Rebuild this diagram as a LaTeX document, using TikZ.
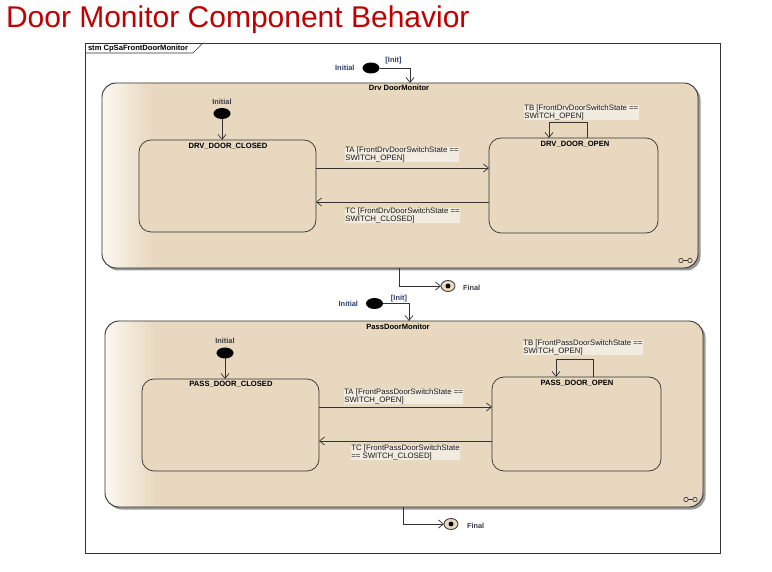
\documentclass[tikz,border=0pt]{standalone}
\usepackage{fontspec}
\setmainfont{Liberation Sans}
\usetikzlibrary{arrows.meta,shadows,shapes.geometric,calc}
\definecolor{tanc}{RGB}{231,216,191}
\definecolor{tanl}{RGB}{252,248,241}
\definecolor{linec}{RGB}{50,50,50}
\definecolor{titlec}{RGB}{192,0,0}
\definecolor{lblc}{RGB}{60,60,70}
\definecolor{initc}{RGB}{45,60,105}
\definecolor{guardbg}{RGB}{242,235,224}
\begin{document}
\begin{tikzpicture}[x=1pt,y=-1pt,
  every node/.style={inner sep=0pt, outer sep=0pt},
  comp/.style={draw=linec, line width=0.9pt, rounded corners=14pt, fill=tanc,
     drop shadow={shadow xshift=2.5pt, shadow yshift=-2.5pt, fill=black!40, opacity=1},
     path picture={\foreach \i [evaluate=\i as \p using int(\i*4)] in {0,...,25}
        {\fill[tanc!\p!tanl, sharp corners] ([xshift=\i*2pt]path picture bounding box.north west) rectangle ([xshift=\i*2pt+2.3pt]path picture bounding box.south west);}}},
  stt/.style={draw=linec, line width=0.7pt, rounded corners=12pt, fill=tanc},
  nm/.style={font=\fontsize{7.6}{8}\selectfont\bfseries, text=black},
  guard/.style={font=\fontsize{7.8}{7.8}\selectfont, text=black!90, align=left, fill=guardbg, inner sep=0.3pt},
  lbl/.style={font=\fontsize{7.4}{8}\selectfont\bfseries, text=lblc},
  initst/.style={ellipse, fill=black, minimum width=17pt, minimum height=11pt},
  finst/.style={ellipse, draw=linec, line width=0.8pt, fill=tanc, minimum width=14pt, minimum height=11pt,
     path picture={\fill[black] (path picture bounding box.center) circle (2.4pt);}},
  tr/.style={draw=linec, line width=0.7pt, -{Straight Barb[length=5pt,width=8pt,line width=0.7pt]}},
  linkicon/.style={draw=linec, line width=0.6pt}
]
\fill[white] (0,0) rectangle (772,572);
\useasboundingbox (0,0) rectangle (772,572);

% title
\node[anchor=base west, font=\fontsize{30}{31}\selectfont, text=titlec] (title) at (6,28) {Door Monitor Component Behavior};

% frame
\node[draw=linec, line width=0.9pt, minimum width=635pt, minimum height=510pt] (frame) at (402.5,298) {};
\draw[linec, line width=0.7pt] ([yshift=-10pt]frame.north west) -- ++(108,0) -- ++(10,-10);
\node[nm, anchor=base west] (tabt) at (88,50.5) {stm CpSaFrontDoorMonitor};

% ===== Drv composite =====
\node[comp, minimum width=596pt, minimum height=185pt] (drv) at (400,175.5) {};
\node[nm, anchor=center] (drvt) at (399,88) {Drv DoorMonitor};

\node[initst] (i0) at (371,68) {};
\node[lbl, text=initc, anchor=east] (i0l) at ([xshift=-8pt]i0.west) {Initial};
\draw[tr] (i0.east) -| ([xshift=10pt]drv.north);
\node[lbl, text=initc, anchor=center] (i0g) at (393.5,61) {[Init]};

\node[initst] (i1) at (222,113.5) {};
\node[lbl, anchor=center] (i1l) at (222,102) {Initial};

\node[stt, minimum width=177pt, minimum height=92pt] (dc) at (227.5,186) {};
\node[nm] (dct) at (228,146) {DRV\_DOOR\_CLOSED};
\node[stt, minimum width=169pt, minimum height=95pt] (do) at (573.5,185.5) {};
\node[nm] (dot) at (575,144) {DRV\_DOOR\_OPEN};

\draw[tr] (i1.south) -- (i1.south |- dc.north);

\coordinate (ta1) at ([yshift=18pt]dc.east);
\draw[tr] (ta1) -- (ta1 -| do.west);
\node[guard, anchor=west] (tal) at (345,154.5) {TA [FrontDrvDoorSwitchState ==\\SWITCH\_OPEN]};
\coordinate (tc1) at ([yshift=-16.5pt]do.west);
\draw[tr] (tc1) -- (tc1 -| dc.east);
\node[guard, anchor=west] (tcl) at (345,215.5) {TC [FrontDrvDoorSwitchState ==\\SWITCH\_CLOSED]};
\draw[tr] ([xshift=13.5pt]do.north) -- ++(0,-16) -| ([xshift=-24.5pt]do.north);
\node[guard, anchor=west] (tbl) at (524,112.5) {TB [FrontDrvDoorSwitchState ==\\SWITCH\_OPEN]};

\draw[linkicon] ([shift={(-17,-7.5)}]drv.south east) circle (2.2pt) ([shift={(-8,-7.5)}]drv.south east) circle (2.2pt)
  ([shift={(-14.8,-7.5)}]drv.south east) -- ([shift={(-10.2,-7.5)}]drv.south east);

\node[finst] (f1) at (448,286) {};
\node[lbl, anchor=west] (f1l) at (463,288) {Final};
\draw[tr] ([xshift=-1pt]drv.south) |- (f1.west);

% ===== Pass composite =====
\node[comp, minimum width=598pt, minimum height=186pt] (pass) at (404,414) {};
\node[nm, anchor=center] (passt) at (398,327) {PassDoorMonitor};

\node[initst] (i2) at (374.5,303.5) {};
\node[lbl, text=initc, anchor=east] (i2l) at ([xshift=-8pt]i2.west) {Initial};
\draw[tr] (i2.east) -| ([xshift=5pt]pass.north);
\node[lbl, text=initc, anchor=center] (i2g) at (399,298.5) {[Init]};

\node[initst] (i3) at (225,353) {};
\node[lbl, anchor=center] (i3l) at (225,341) {Initial};

\node[stt, minimum width=177pt, minimum height=92pt] (pc) at (230.5,425) {};
\node[nm] (pct) at (231,384.5) {PASS\_DOOR\_CLOSED};
\node[stt, minimum width=169pt, minimum height=94pt] (po) at (576.5,424) {};
\node[nm] (pot) at (577,383) {PASS\_DOOR\_OPEN};

\draw[tr] (i3.south) -- (i3.south |- pc.north);

\coordinate (ta2) at ([yshift=18pt]pc.east);
\draw[tr] (ta2) -- (ta2 -| po.west);
\node[guard, anchor=west] (tal2) at (344,396.5) {TA [FrontPassDoorSwitchState ==\\SWITCH\_OPEN]};
\coordinate (tc2) at ([yshift=-17pt]po.west);
\draw[tr] (tc2) -- (tc2 -| pc.east);
\node[guard, anchor=west] (tcl2) at (351,452.5) {TC [FrontPassDoorSwitchState\\== SWITCH\_CLOSED]};
\draw[tr] ([xshift=16.5pt]po.north) -- ++(0,-18) -| ([xshift=-20.5pt]po.north);
\node[guard, anchor=west] (tbl2) at (523,347.5) {TB [FrontPassDoorSwitchState ==\\SWITCH\_OPEN]};

\draw[linkicon] ([shift={(-17,-7.5)}]pass.south east) circle (2.2pt) ([shift={(-8,-7.5)}]pass.south east) circle (2.2pt)
  ([shift={(-14.8,-7.5)}]pass.south east) -- ([shift={(-10.2,-7.5)}]pass.south east);

\node[finst] (f2) at (451,524) {};
\node[lbl, anchor=west] (f2l) at (467,526) {Final};
\draw[tr] ([xshift=-1pt]pass.south) |- (f2.west);
\end{tikzpicture}
\end{document}
